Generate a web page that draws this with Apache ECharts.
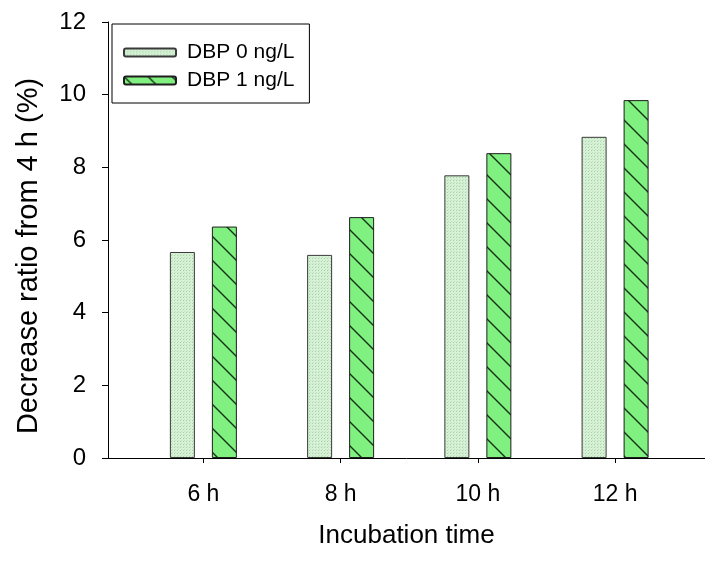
<!DOCTYPE html>
<html>
<head>
<meta charset="utf-8">
<script src="https://cdn.jsdelivr.net/npm/echarts@6/dist/echarts.min.js"></script>
<style>
html,body{margin:0;padding:0;background:#fff;}
#c{width:705px;height:563px;}
</style>
</head>
<body>
<div id="c"></div>
<script>
var categories = ['6 h', '8 h', '10 h', '12 h'];
var hours = [6, 8, 10, 12];
var seriesNames = ['DBP 0 ng/L', 'DBP 1 ng/L'];
var dbp0 = [5.67, 5.59, 7.78, 8.84];
var dbp1 = [6.37, 6.63, 8.39, 9.85];
var yTicks = [0, 2, 4, 6, 8, 10, 12];

function dotPattern() {
  var c = document.createElement('canvas');
  c.width = 3; c.height = 3;
  var g = c.getContext('2d');
  g.fillStyle = '#d6f1d6';
  g.fillRect(0, 0, 3, 3);
  g.fillStyle = '#a6d2a6';
  g.fillRect(0, 0, 1, 1);
  g.fillStyle = '#bfe2bf';
  g.fillRect(1, 2, 1, 1);
  return c;
}
function hatchPattern() {
  var s = 24;
  var c = document.createElement('canvas');
  c.width = s; c.height = s;
  var g = c.getContext('2d');
  g.fillStyle = '#80f080';
  g.fillRect(0, 0, s, s);
  g.strokeStyle = '#143214';
  g.lineWidth = 1.4;
  g.beginPath();
  g.moveTo(-2, -2); g.lineTo(s + 2, s + 2);
  g.moveTo(-2, s - 2); g.lineTo(2, s + 2);
  g.moveTo(s - 2, -2); g.lineTo(s + 2, 2);
  g.stroke();
  return c;
}

var font = 'Liberation Sans, Arial, sans-serif';
var chart = echarts.init(document.getElementById('c'));
function pairs(vals) { return hours.map(function (h, i) { return [h, vals[i]]; }); }

chart.setOption({
  animation: false,
  backgroundColor: '#fff',
  grid: { left: 108, top: 22, right: 0, bottom: 105, containLabel: false },
  legend: {
    orient: 'vertical', left: 112, top: 24,
    data: seriesNames,
    borderColor: '#000', borderWidth: 1,
    padding: [18, 15, 12, 11],
    itemGap: 7, itemWidth: 52, itemHeight: 8,
    textStyle: { fontFamily: font, fontSize: 21, color: '#000', lineHeight: 20, padding: [0, 0, 0, 6] }
  },
  xAxis: {
    type: 'value', min: 4.61, max: 13.31,
    splitLine: { show: false },
    axisLine: { show: true, lineStyle: { color: '#000', width: 1 } },
    axisTick: { show: true, customValues: hours, inside: false, length: 5, lineStyle: { color: '#000' } },
    axisLabel: {
      customValues: hours,
      formatter: function (v) { return categories[hours.indexOf(v)]; },
      fontFamily: font, fontSize: 23, color: '#000', margin: 25
    },
    name: 'Incubation time', nameLocation: 'middle', nameGap: 65,
    nameTextStyle: { fontFamily: font, fontSize: 26, color: '#000' }
  },
  yAxis: {
    type: 'value', min: 0, max: 12, interval: 2,
    splitLine: { show: false },
    axisLine: { show: true, lineStyle: { color: '#000', width: 1 } },
    axisTick: { show: true, inside: false, length: 6, lineStyle: { color: '#000' } },
    axisLabel: {
      formatter: function (v) { return yTicks.indexOf(v) >= 0 ? String(v) : ''; },
      fontFamily: font, fontSize: 24, color: '#000', margin: 22
    },
    name: 'Decrease ratio from 4 h (%)', nameLocation: 'middle', nameGap: 65, nameRotate: 90,
    nameTextStyle: { fontFamily: font, fontSize: 29, color: '#000', padding: [0, 32, 0, 0] }
  },
  series: [
    {
      name: seriesNames[0], type: 'bar', data: pairs(dbp0),
      barWidth: 25, barGap: '68%',
      itemStyle: { color: { image: dotPattern(), repeat: 'repeat' }, borderColor: '#3a3a3a', borderWidth: 1 }
    },
    {
      name: seriesNames[1], type: 'bar', data: pairs(dbp1),
      barWidth: 25, barGap: '68%',
      itemStyle: { color: { image: hatchPattern(), repeat: 'repeat' }, borderColor: '#1e1e1e', borderWidth: 1 }
    }
  ]
});
</script>
</body>
</html>
